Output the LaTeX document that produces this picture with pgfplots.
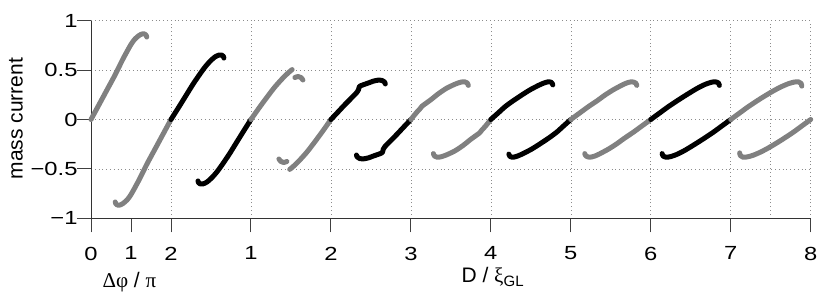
\documentclass[border=0pt]{standalone}
\usepackage{fontspec}
\setmainfont{Liberation Sans}
\newfontfamily\grk{Liberation Serif}
\usepackage{graphicx}
\usepackage{pgfplots}
\pgfplotsset{compat=1.18}
\definecolor{cgray}{RGB}{128,128,128}
\newcommand\tickfont{\fontsize{19bp}{22bp}\selectfont}
\newcommand\labfont{\fontsize{21bp}{24bp}\selectfont}
\newcommand\sx[1]{\scalebox{1.25}[1]{#1}}
\begin{document}
\begin{tikzpicture}
\path[use as bounding box] (-91bp,-79.7bp) rectangle (731bp,218.3bp);
\begin{axis}[
  scale only axis, width=719.7bp, height=197.6bp,
  xmin=-1, xmax=8, ymin=-1, ymax=1,
  axis x line=bottom, axis y line=left,
  axis line style={black!80, line width=0.9bp, -},
  xtick={-1,-0.5,0,1,2,3,4,5,6,7,8},
  xticklabels={\sx{0},\sx{1},\sx{2},\sx{1},\sx{2},\sx{3},\sx{4},\sx{5},\sx{6},\sx{7},\sx{8}},
  ytick={-1,-0.5,0,0.5,1},
  yticklabels={\sx{−1},\sx{−0.5},\sx{0},\sx{0.5},\sx{1}},
  minor xtick={0,1,2,3,4,5,6,7,7.5,8},
  xminorgrids=true, ymajorgrids=true,
  tick align=outside, major tick length=14bp, minor tick length=0pt,
  major tick style={black!75, line width=0.9bp},
  every tick label/.append style={font=\tickfont},
  xticklabel style={yshift=-11bp},
  yticklabel style={xshift=4bp},
  major grid style={black!45, line width=0.6bp, dash pattern=on 0.8bp off 3bp},
  minor grid style={black!45, line width=0.6bp, dash pattern=on 0.8bp off 3bp},
  clip=false,
  every axis plot/.append style={line width=5bp, line cap=round, line join=round, smooth, tension=0.45},
]
% Delta phi branch
\addplot[cgray] coordinates {(-1,0)(-0.9,0.15)(-0.8,0.30)(-0.7,0.45)(-0.6,0.613)(-0.5,0.76)(-0.45,0.815)(-0.40,0.85)(-0.36,0.866)(-0.33,0.866)(-0.31,0.853)(-0.303,0.835)};
\addplot[cgray] coordinates {(0,0)(-0.1,-0.15)(-0.2,-0.30)(-0.3,-0.45)(-0.4,-0.613)(-0.5,-0.76)(-0.55,-0.815)(-0.60,-0.85)(-0.64,-0.866)(-0.67,-0.866)(-0.69,-0.853)(-0.697,-0.835)};
% [0,1]
\addplot[black] coordinates {(0,0)(0.09,0.115)(0.179,0.231)(0.27,0.35)(0.345,0.44)(0.42,0.525)(0.49,0.59)(0.55,0.633)(0.60,0.652)(0.635,0.652)(0.655,0.64)(0.662,0.622)};
\addplot[black] coordinates {(1,0)(0.91,-0.115)(0.821,-0.231)(0.73,-0.35)(0.655,-0.44)(0.58,-0.525)(0.51,-0.59)(0.45,-0.633)(0.40,-0.652)(0.365,-0.652)(0.345,-0.64)(0.338,-0.622)};
% [1,2]
\addplot[cgray] coordinates {(1,0)(1.1,0.115)(1.2,0.225)(1.3,0.33)(1.4,0.42)(1.47,0.475)(1.515,0.505)};
\addplot[cgray] coordinates {(1.55,0.425)(1.59,0.435)(1.625,0.425)(1.65,0.40)};
\addplot[cgray] coordinates {(1.45,-0.425)(1.41,-0.435)(1.375,-0.425)(1.35,-0.40)};
\addplot[cgray] coordinates {(2,0)(1.9,-0.115)(1.8,-0.225)(1.7,-0.33)(1.6,-0.42)(1.53,-0.475)(1.485,-0.505)};
% [2,3]
\addplot[black] coordinates {(2,0)(2.09,0.077)(2.179,0.154)(2.26,0.22)(2.325,0.275)(2.345,0.30)(2.358,0.335)(2.41,0.353)(2.47,0.37)(2.53,0.388)(2.59,0.398)(2.64,0.395)(2.67,0.38)(2.68,0.36)};
\addplot[black] coordinates {(3,0)(2.91,-0.077)(2.821,-0.154)(2.74,-0.22)(2.675,-0.275)(2.655,-0.30)(2.642,-0.335)(2.59,-0.353)(2.53,-0.37)(2.47,-0.388)(2.41,-0.398)(2.36,-0.395)(2.33,-0.38)(2.32,-0.36)};
% [3,4]
\addplot[cgray] coordinates {(3,0)(3.07,0.07)(3.11,0.105)(3.14,0.135)(3.25,0.2)(3.346,0.262)(3.45,0.318)(3.554,0.358)(3.62,0.377)(3.67,0.382)(3.705,0.37)(3.718,0.345)};
\addplot[cgray] coordinates {(4,0)(3.93,-0.07)(3.89,-0.105)(3.86,-0.135)(3.75,-0.2)(3.654,-0.262)(3.55,-0.318)(3.446,-0.358)(3.38,-0.377)(3.33,-0.382)(3.295,-0.37)(3.282,-0.345)};
% [4,5]
\addplot[black] coordinates {(4,0)(4.09,0.065)(4.179,0.13)(4.28,0.19)(4.3875,0.248)(4.49,0.3)(4.596,0.345)(4.66,0.368)(4.72,0.382)(4.76,0.374)(4.775,0.35)};
\addplot[black] coordinates {(5,0)(4.91,-0.065)(4.821,-0.13)(4.72,-0.19)(4.6125,-0.248)(4.51,-0.3)(4.404,-0.345)(4.34,-0.368)(4.28,-0.382)(4.24,-0.374)(4.225,-0.35)};
% [5,6]
\addplot[cgray] coordinates {(5,0)(5.11,0.065)(5.22,0.13)(5.33,0.19)(5.429,0.248)(5.53,0.3)(5.6375,0.347)(5.70,0.37)(5.7625,0.382)(5.81,0.37)(5.825,0.345)};
\addplot[cgray] coordinates {(6,0)(5.89,-0.065)(5.78,-0.13)(5.67,-0.19)(5.571,-0.248)(5.47,-0.3)(5.3625,-0.347)(5.30,-0.37)(5.2375,-0.382)(5.19,-0.37)(5.175,-0.345)};
% [6,7]
\addplot[black] coordinates {(6,0)(6.11,0.065)(6.22,0.13)(6.35,0.2)(6.471,0.262)(6.58,0.315)(6.679,0.355)(6.75,0.375)(6.804,0.382)(6.845,0.37)(6.858,0.345)};
\addplot[black] coordinates {(7,0)(6.89,-0.065)(6.78,-0.13)(6.65,-0.2)(6.529,-0.262)(6.42,-0.315)(6.321,-0.355)(6.25,-0.375)(6.196,-0.382)(6.155,-0.37)(6.142,-0.345)};
% [7,8]
\addplot[cgray] coordinates {(7,0)(7.11,0.065)(7.22,0.13)(7.37,0.21)(7.5125,0.28)(7.62,0.327)(7.72,0.362)(7.79,0.378)(7.846,0.382)(7.88,0.365)(7.888,0.338)};
\addplot[cgray] coordinates {(8,0)(7.89,-0.065)(7.78,-0.13)(7.63,-0.21)(7.4875,-0.28)(7.38,-0.327)(7.28,-0.362)(7.21,-0.378)(7.154,-0.382)(7.12,-0.365)(7.112,-0.338)};
\node[anchor=base, font=\labfont] at ([yshift=-69bp]axis cs:-0.52,-1) {{\grk Δφ} / {\grk π}};
\node[anchor=base west, font=\labfont] at ([yshift=-64bp]axis cs:3.59,-1) {D / {\grk ξ}\raisebox{-0.4ex}{\fontsize{15bp}{15bp}\selectfont GL}};
\node[rotate=90, font=\labfont] at ([xshift=-75bp]axis cs:-1,0.01) {mass current};
\end{axis}
\end{tikzpicture}
\end{document}
